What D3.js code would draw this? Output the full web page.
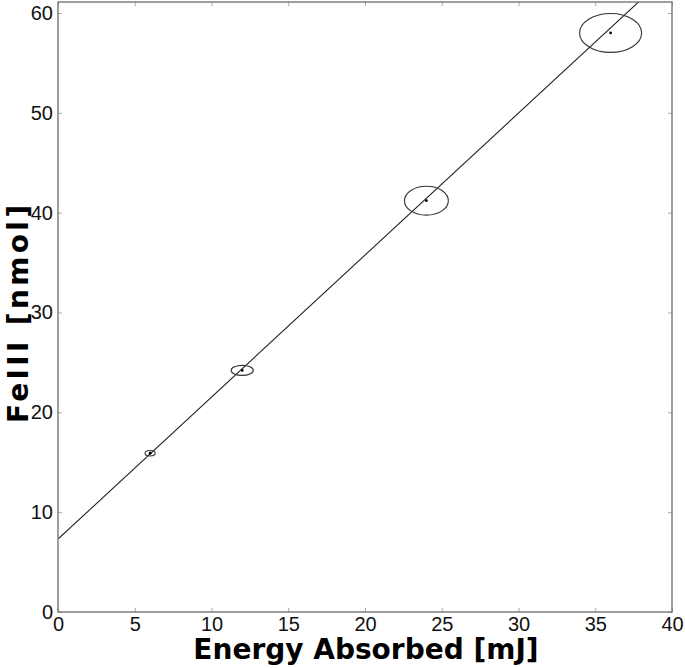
<!DOCTYPE html>
<html>
<head>
<meta charset="utf-8">
<title>FeIII vs Energy Absorbed</title>
<script src="https://d3js.org/d3.v7.min.js"></script>
<style>
  body { margin: 0; background: #fff; }
  svg { display: block; }
</style>
</head>
<body>
<script>
// data
var energy = [6, 12, 24, 36];          // mJ
var feiii = [15.9, 24.2, 41.2, 58.0];  // nmol
var errX = [0.33, 0.72, 1.43, 2.02];   // ellipse half-width (mJ)
var errY = [0.27, 0.50, 1.45, 1.95];   // ellipse half-height (nmol)
var fitX = [0, 40];
var fitY = [7.3, 64.2];
var xTicks = [0, 5, 10, 15, 20, 25, 30, 35, 40];
var yTicks = [0, 10, 20, 30, 40, 50, 60];

var width = 685, height = 668;
var m = { left: 58, right: 672, top: 2, bottom: 612 };

var svg = d3.select("body")
    .append("svg")
    .attr("width", width)
    .attr("height", height);

var x = d3.scaleLinear().domain([0, 40]).range([m.left, m.right]);
var y = d3.scaleLinear().domain([0, 61.1]).range([m.bottom, m.top]);

svg.append("clipPath")
    .attr("id", "plotclip")
  .append("rect")
    .attr("x", m.left).attr("y", m.top)
    .attr("width", m.right - m.left).attr("height", m.bottom - m.top);

var plot = svg.append("g").attr("clip-path", "url(#plotclip)");

// fit line
plot.append("path")
    .datum(d3.range(fitX.length))
    .attr("fill", "none")
    .attr("stroke", "#222")
    .attr("stroke-width", 1.1)
    .attr("d", d3.line()
        .x(function(i) { return x(fitX[i]); })
        .y(function(i) { return y(fitY[i]); }));

var pts = d3.range(energy.length);

// error ellipses
plot.selectAll("ellipse")
    .data(pts)
    .enter()
    .append("ellipse")
    .attr("cx", function(i) { return x(energy[i]); })
    .attr("cy", function(i) { return y(feiii[i]); })
    .attr("rx", function(i) { return x(errX[i]) - x(0); })
    .attr("ry", function(i) { return y(0) - y(errY[i]); })
    .attr("fill", "none")
    .attr("stroke", "#333")
    .attr("stroke-width", 1.1);

// points
plot.selectAll("circle")
    .data(pts)
    .enter()
    .append("circle")
    .attr("cx", function(i) { return x(energy[i]); })
    .attr("cy", function(i) { return y(feiii[i]); })
    .attr("r", 1.4)
    .attr("fill", "#000");

// axes: ticks inward on all four sides
var tickLen = 4;
var tickColor = "#aaa";

function styleTicks(g) {
  g.select(".domain").remove();
  g.selectAll("line").attr("stroke", tickColor);
  g.selectAll("text")
    .style("font-family", "'Liberation Sans', Arial, sans-serif")
    .style("font-size", "20px")
    .attr("fill", "#111");
}

svg.append("g")
    .attr("transform", "translate(0," + m.bottom + ")")
    .call(d3.axisBottom(x).tickValues(xTicks).tickSize(-tickLen).tickPadding(5).tickFormat(d3.format("d")))
    .call(styleTicks);

svg.append("g")
    .attr("transform", "translate(0," + m.top + ")")
    .call(d3.axisTop(x).tickValues(xTicks).tickSize(-tickLen).tickFormat(""))
    .call(styleTicks);

svg.append("g")
    .attr("transform", "translate(" + m.left + ",0)")
    .call(d3.axisLeft(y).tickValues(yTicks).tickSize(-tickLen).tickPadding(5).tickFormat(d3.format("d")))
    .call(styleTicks);

svg.append("g")
    .attr("transform", "translate(" + m.right + ",0)")
    .call(d3.axisRight(y).tickValues(yTicks).tickSize(-tickLen).tickFormat(""))
    .call(styleTicks);

// frame
svg.append("rect")
    .attr("x", m.left).attr("y", m.top)
    .attr("width", m.right - m.left).attr("height", m.bottom - m.top)
    .attr("fill", "none")
    .attr("stroke", "#777")
    .attr("stroke-width", 1.4);

// axis titles
svg.append("text")
    .attr("x", 366)
    .attr("y", 659)
    .attr("text-anchor", "middle")
    .style("font-family", "'DejaVu Sans', Verdana, sans-serif")
    .style("font-weight", "bold")
    .style("font-size", "28px")
    .attr("fill", "#000")
    .text("Energy Absorbed [mJ]");

svg.append("text")
    .attr("transform", "translate(28,314) rotate(-90)")
    .attr("text-anchor", "middle")
    .attr("textLength", 218)
    .attr("lengthAdjust", "spacing")
    .style("font-family", "'DejaVu Sans', Verdana, sans-serif")
    .style("font-weight", "bold")
    .style("font-size", "28px")
    .attr("fill", "#000")
    .text("FeIII [nmol]");
</script>
</body>
</html>
